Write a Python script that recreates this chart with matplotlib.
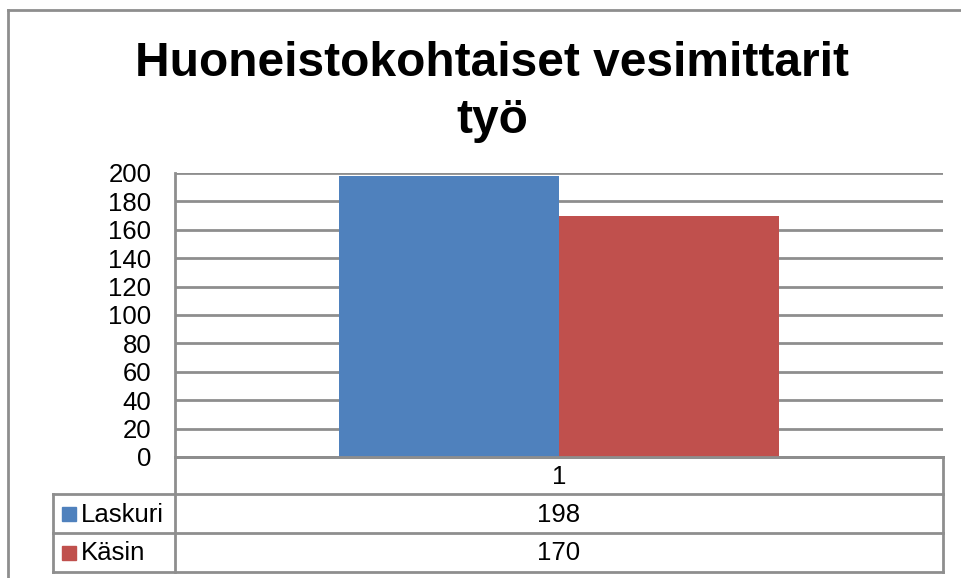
import matplotlib
matplotlib.use("Agg")
import matplotlib.pyplot as plt
from matplotlib.lines import Line2D
from matplotlib.patches import Rectangle

# data
categories = ["1"]
series_names = ["Laskuri", "Käsin"]
laskuri = [198]
kasin = [170]
colors = ["#4F81BD", "#C0504D"]
title = "Huoneistokohtaiset vesimittarit\ntyö"

plt.rcParams['font.family'] = ['Liberation Sans', 'DejaVu Sans']

W, H = 962, 578
fig = plt.figure(figsize=(W / 100, H / 100), dpi=100)


def fx(x):
    return x / W


def fy(y):
    return 1 - y / H


def hline(x0, x1, y, c="#8e8e8e", lw=2.0):
    fig.add_artist(Line2D([fx(x0), fx(x1)], [fy(y), fy(y)], color=c, lw=lw))


def vline(x, y0, y1, c="#8e8e8e", lw=2.0):
    fig.add_artist(Line2D([fx(x), fx(x)], [fy(y0), fy(y1)], color=c, lw=lw))


# outer chart frame
hline(8, 962, 10, lw=2.0)
vline(8, 10, 578, lw=2.0)

# plot area
left, right, top, bottom = 175, 943, 173, 457
ax = fig.add_axes([fx(left), fy(bottom), fx(right - left), (bottom - top) / H])

w = 0.286
xs = range(len(categories))
ax.bar([x - w for x in xs], laskuri, width=w, align='edge', color=colors[0], zorder=3)
ax.bar([x for x in xs], kasin, width=w, align='edge', color=colors[1], zorder=3)

ax.set_xlim(-0.5, len(categories) - 0.5)
ax.set_ylim(0, 200)
ax.set_yticks(range(0, 201, 20))
ax.tick_params(axis='y', length=0, labelsize=18.5, pad=17)
ax.set_xticks([])
ax.grid(axis='y', color="#8e8e8e", lw=2.0, zorder=0)
for s in ["top", "right"]:
    ax.spines[s].set_visible(False)
ax.spines["left"].set_color("#8e8e8e")
ax.spines["left"].set_linewidth(2.0)
ax.spines["bottom"].set_color("#8e8e8e")
ax.spines["bottom"].set_linewidth(2.0)

fig.text(fx(492), fy(92), title, ha='center', va='center', fontsize=34.5,
         fontweight='bold', linespacing=1.32)

# data table
row_y = [457, 494, 533, 572]
tab_left = 53
hline(left, right, row_y[0])
for y in row_y[1:]:
    hline(tab_left, right, y)
vline(left, row_y[0], row_y[-1])
vline(right, row_y[0], row_y[-1])
vline(tab_left, row_y[1], row_y[-1])

for i, cat in enumerate(categories):
    fig.text(fx((left + right) / 2), fy((row_y[0] + row_y[1]) / 2 + 1), cat,
             ha='center', va='center', fontsize=18.5)

for r, (name, vals) in enumerate(zip(series_names, [laskuri, kasin])):
    yc = (row_y[r + 1] + row_y[r + 2]) / 2
    fig.add_artist(Rectangle((fx(62), fy(yc + 7)), fx(14), 14 / H,
                             color=colors[r]))
    fig.text(fx(81), fy(yc + 1), name, ha='left', va='center', fontsize=18.5)
    fig.text(fx((left + right) / 2), fy(yc + 1), str(vals[0]),
             ha='center', va='center', fontsize=18.5)

fig.savefig("out.png", dpi=100)
